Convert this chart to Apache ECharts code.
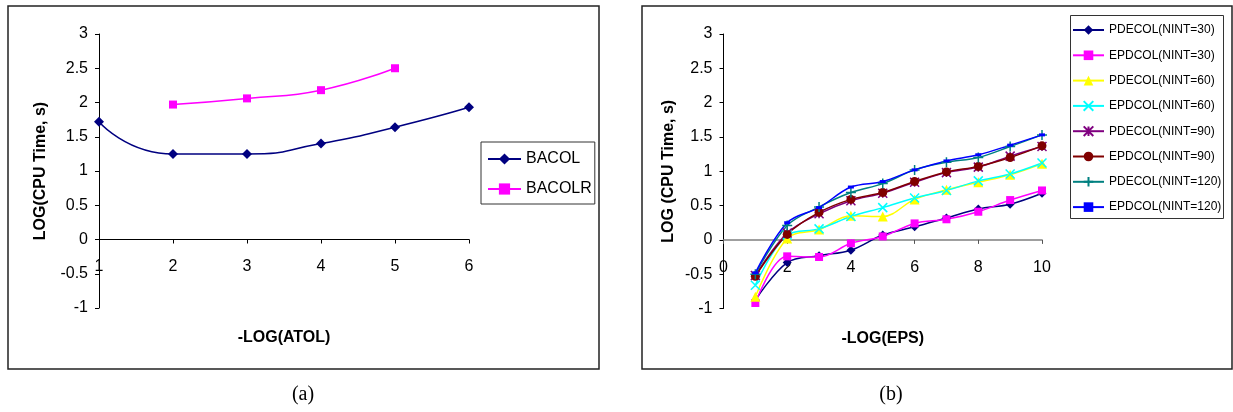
<!DOCTYPE html>
<html>
<head>
<meta charset="utf-8">
<title>CPU time comparison</title>
<script src="https://cdn.jsdelivr.net/npm/echarts@6/dist/echarts.min.js"></script>
<style>
  html, body { margin: 0; padding: 0; background: #fff; }
  #chart { width: 1233px; height: 412px; }
</style>
</head>
<body>
<div id="chart"></div>
<script>
// Panel (a): CPU time against tolerance
const atolX = [1, 2, 3, 4, 5, 6];
const bacol = [1.72, 1.25, 1.25, 1.40, 1.64, 1.93];
const bacolrX = [2, 3, 4, 5];
const bacolr = [1.97, 2.06, 2.18, 2.50];

// Panel (b): CPU time against EPS for several mesh sizes
const epsX = [1, 2, 3, 4, 5, 6, 7, 8, 9, 10];
const pdecol30  = [-0.88, -0.33, -0.23, -0.15, 0.07, 0.19, 0.32, 0.45, 0.52, 0.68];
const epdcol30  = [-0.92, -0.24, -0.25, -0.05, 0.05, 0.24, 0.30, 0.41, 0.58, 0.72];
const pdecol60  = [-0.83, 0.02, 0.15, 0.35, 0.34, 0.59, 0.73, 0.84, 0.95, 1.11];
const epdcol60  = [-0.66, 0.07, 0.16, 0.34, 0.47, 0.61, 0.72, 0.86, 0.96, 1.12];
const pdecol90  = [-0.52, 0.10, 0.38, 0.57, 0.68, 0.84, 0.98, 1.06, 1.22, 1.36];
const epdcol90  = [-0.53, 0.08, 0.40, 0.59, 0.69, 0.85, 0.99, 1.07, 1.20, 1.37];
const pdecol120 = [-0.50, 0.21, 0.48, 0.69, 0.82, 1.02, 1.13, 1.20, 1.36, 1.53];
const epdcol120 = [-0.48, 0.25, 0.47, 0.77, 0.85, 1.02, 1.15, 1.24, 1.38, 1.53];

const yTicks = { min: -1, max: 3, interval: 0.5 };

const pairs = (xs, ys) => xs.map((x, i) => [x, ys[i]]);

const SANS = "'Liberation Sans', Arial, sans-serif";

const SYM_X = 'path://M0,0L10,10M0,10L10,0';
const SYM_PLUS = 'path://M5,0L5,10M0,5L10,5';
const SYM_STAR = 'path://M0,0L10,10M0,10L10,0M5,0L5,10';

function yAxisFor(gridIndex, name, gap) {
  return {
    type: 'value', gridIndex, ...yTicks, name,
    nameLocation: 'middle', nameGap: gap, nameRotate: 90,
    nameTextStyle: { fontFamily: SANS, fontWeight: 'bold', fontSize: 16, color: '#000' },
    axisLine: { show: true, lineStyle: { color: '#000', width: 1 } },
    axisTick: { show: true, length: 4, lineStyle: { color: '#000' } },
    axisLabel: { fontFamily: SANS, fontSize: 16, color: '#000', margin: 11 },
    splitLine: { show: false }
  };
}

function xAxisFor(gridIndex, name, min, max, interval, lineColor) {
  return {
    type: 'value', gridIndex, min, max, interval,
    name, nameLocation: 'middle', nameGap: 22,
    nameTextStyle: { fontFamily: SANS, fontWeight: 'bold', fontSize: 16, color: '#000' },
    axisLine: { onZero: true, lineStyle: { color: lineColor, width: lineColor === '#000' ? 1 : 1.5 } },
    axisTick: { length: 4, lineStyle: { color: lineColor === '#000' ? '#000' : '#555' } },
    axisLabel: { fontFamily: SANS, fontSize: 16, color: '#000', margin: -49 },
    splitLine: { show: false }
  };
}

function lineSeries(name, xs, ys, xi, color, symbol, size, smooth, hollow) {
  return {
    name, type: 'line', xAxisIndex: xi, yAxisIndex: xi,
    data: pairs(xs, ys), smooth, symbol, symbolSize: size,
    showSymbol: true,
    lineStyle: { color, width: 1.5 },
    itemStyle: hollow
      ? { color: 'rgba(0,0,0,0)', borderColor: color, borderWidth: 1.5 }
      : { color },
    emphasis: { disabled: true },
    z: 3
  };
}

const chart = echarts.init(document.getElementById('chart'), null, { renderer: 'canvas' });

chart.setOption({
  animation: false,
  backgroundColor: '#fff',
  grid: [
    { left: 99, top: 34, width: 370, height: 274, outerBoundsMode: 'none', containLabel: false },
    { left: 723.5, top: 34, width: 318.5, height: 274.5, outerBoundsMode: 'none', containLabel: false }
  ],
  xAxis: [
    xAxisFor(0, '-LOG(ATOL)', 1, 6, 1, '#000'),
    xAxisFor(1, '-LOG(EPS)', 0, 10, 2, '#808080')
  ],
  yAxis: [
    yAxisFor(0, 'LOG(CPU Time, s)', 50),
    yAxisFor(1, 'LOG (CPU Time, s)', 47)
  ],
  legend: [
    {
      orient: 'vertical', left: 481, top: 142,
      padding: [9, 3, 7, 6], itemGap: 14, itemWidth: 33, itemHeight: 14,
      borderColor: '#333', borderWidth: 1,
      textStyle: { fontFamily: SANS, fontSize: 16, color: '#000' },
      data: ['BACOL', 'BACOLR']
    },
    {
      orient: 'vertical', left: 1070, top: 15,
      padding: [9, 4, 5, 2], itemGap: 13.3, itemWidth: 31, itemHeight: 12,
      borderWidth: 0,
      textStyle: { fontFamily: SANS, fontSize: 12, color: '#000' },
      data: ['PDECOL(NINT=30)', 'EPDCOL(NINT=30)', 'PDECOL(NINT=60)', 'EPDCOL(NINT=60)',
             'PDECOL(NINT=90)', 'EPDCOL(NINT=90)', 'PDECOL(NINT=120)', 'EPDCOL(NINT=120)']
    }
  ],
  series: [
    lineSeries('BACOL', atolX, bacol, 0, '#000080', 'diamond', 10, 0.6),
    lineSeries('BACOLR', bacolrX, bacolr, 0, '#FF00FF', 'rect', 8, 0.5),
    lineSeries('PDECOL(NINT=30)', epsX, pdecol30, 1, '#000080', 'diamond', 9, 0.35),
    lineSeries('EPDCOL(NINT=30)', epsX, epdcol30, 1, '#FF00FF', 'rect', 8, 0.35),
    lineSeries('PDECOL(NINT=60)', epsX, pdecol60, 1, '#FFFF00', 'triangle', 10, 0.35),
    lineSeries('EPDCOL(NINT=60)', epsX, epdcol60, 1, '#00FFFF', SYM_X, 9, 0.35, true),
    lineSeries('PDECOL(NINT=90)', epsX, pdecol90, 1, '#800080', SYM_STAR, 9, 0.35, true),
    lineSeries('EPDCOL(NINT=90)', epsX, epdcol90, 1, '#800000', 'circle', 9, 0.35),
    lineSeries('PDECOL(NINT=120)', epsX, pdecol120, 1, '#008080', SYM_PLUS, 10, 0.35, true),
    lineSeries('EPDCOL(NINT=120)', epsX, epdcol120, 1, '#0000FF', 'path://M0,0L6,0L6,2.5L0,2.5Z', [6, 3], 0.35)
  ],
  graphic: [
    // panel frames
    { type: 'rect', shape: { x: 8, y: 6, width: 591, height: 363 }, style: { fill: null, stroke: '#222', lineWidth: 1.5 }, silent: true, z: 0 },
    { type: 'rect', shape: { x: 642, y: 6, width: 590, height: 363 }, style: { fill: null, stroke: '#222', lineWidth: 1.5 }, silent: true, z: 0 },
    // frame around the legend of panel (b)
    { type: 'rect', shape: { x: 1070.5, y: 15.5, width: 153, height: 203 }, style: { fill: null, stroke: '#333', lineWidth: 1 }, silent: true, z: 0 },
    { type: 'text', x: 303, y: 395, style: { text: '(a)', font: "20px 'Liberation Serif', 'Times New Roman', serif", fill: '#000', textAlign: 'center', textVerticalAlign: 'middle' } },
    { type: 'text', x: 891, y: 395, style: { text: '(b)', font: "20px 'Liberation Serif', 'Times New Roman', serif", fill: '#000', textAlign: 'center', textVerticalAlign: 'middle' } }
  ]
});
</script>
</body>
</html>
